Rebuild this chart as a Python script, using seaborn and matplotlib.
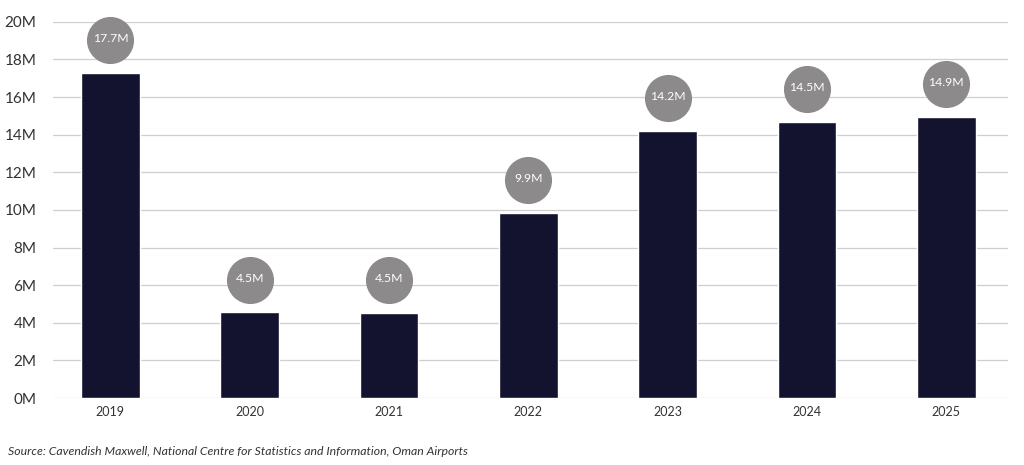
import pandas as pd
import seaborn as sns
import matplotlib.pyplot as plt

years = ["2019", "2020", "2021", "2022", "2023", "2024", "2025"]
passengers_m = [17.3, 4.55, 4.5, 9.85, 14.2, 14.7, 14.95]
bubble_labels = ["17.7M", "4.5M", "4.5M", "9.9M", "14.2M", "14.5M", "14.9M"]
y_ticks = [0, 2, 4, 6, 8, 10, 12, 14, 16, 18, 20]

df = pd.DataFrame({"year": years, "value": passengers_m})

sns.set_theme(style="white")
plt.rcParams["font.family"] = ["Lato", "DejaVu Sans"]

fig = plt.figure(figsize=(10.24, 4.65), dpi=100)
ax = fig.add_axes([0.052, 0.144, 0.932, 0.809])

sns.barplot(data=df, x="year", y="value", color="#131330", width=0.42,
            saturation=1, ax=ax, zorder=3)

# grey bubbles above each bar
for i, (v, lab) in enumerate(zip(passengers_m, bubble_labels)):
    yc = v + 1.75
    ax.scatter([i], [yc], s=1150, color="#8c8a8b", zorder=4, clip_on=False,
               linewidths=0)
    ax.text(i, yc + 0.08, lab, ha="center", va="center", color="white",
            fontsize=8.8, zorder=5)

ax.set_ylim(0, 20)
ax.set_xlim(-0.41, 6.44)
ax.set_yticks(y_ticks)
ax.set_yticklabels([f"{t}M" for t in y_ticks])
ax.yaxis.grid(True, color="#cfcfcf", linewidth=0.9, zorder=0)
ax.set_axisbelow(True)
for s in ax.spines.values():
    s.set_visible(False)
ax.tick_params(axis="y", labelsize=11, colors="#333333", length=0, pad=12)
ax.tick_params(axis="x", labelsize=9, colors="#333333", length=0, pad=6)
ax.set_xlabel("")
ax.set_ylabel("")

fig.text(0.008, 0.028, "Source: Cavendish Maxwell, National Centre for Statistics and Information, Oman Airports",
         fontsize=8.8, style="italic", color="#333333", ha="left", va="center")

fig.savefig("out.png", dpi=100)
